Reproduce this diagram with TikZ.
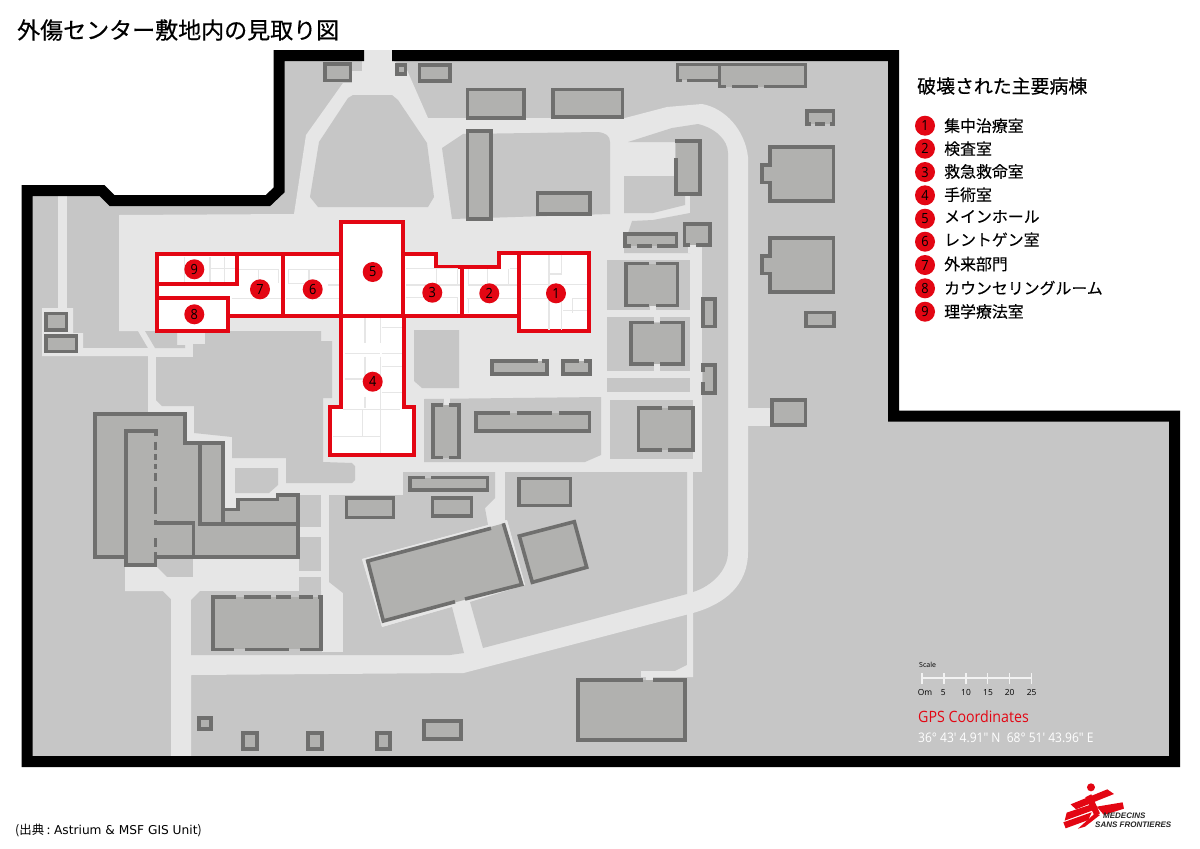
\documentclass[tikz,border=0pt]{standalone}
\usepackage{fontspec}
\newfontfamily\jp[FakeBold=0.12]{Noto Sans CJK JP}
\newfontfamily\jpn{Noto Sans CJK JP}
\newfontfamily\jpm[FakeBold=0.45]{Noto Sans CJK JP}
\newfontfamily\lat{Open Sans}
\newfontfamily\latn[FakeStretch=0.91]{Open Sans}
\newfontfamily\dej{DejaVu Sans}
\newfontfamily\arialf{Liberation Sans}
\definecolor{ground}{HTML}{C6C6C6}
\definecolor{road}{HTML}{E6E6E6}
\definecolor{bfillc}{HTML}{B1B1AF}
\definecolor{bline}{HTML}{6F6F6E}
\definecolor{msf}{HTML}{E30613}
\tikzset{
  wall/.style={draw=black,line width=11pt,miter limit=10},
  gnd/.style={fill=ground},
  rd/.style={fill=road},
  bld/.style={draw=bline,fill=bfillc,line width=3.6pt},
  bf/.style={fill=bfillc},
  bs/.style={draw=bline,line width=3.6pt},
  redb/.style={draw=msf,fill=white,line width=3.8pt,miter limit=10},
  redl/.style={draw=msf,line width=3.8pt},
  room/.style={draw=road,line width=1.2pt},
  num/.style={circle,fill=msf,minimum size=20pt,inner sep=0pt,text=black,font=\latn\fontsize{14}{15}\selectfont},
  leg/.style={anchor=west,inner sep=0pt,text=black,font=\jp\fontsize{15.9}{18}\selectfont},
  sc/.style={inner sep=0pt,text=black,font=\lat\fontsize{8.4}{9}\selectfont},
  tick/.style={draw=white!95!black,line width=1.2pt},
}
\newcommand\bx[4]{\draw[bld] (#1+1.8,#2+1.8) rectangle (#3-1.8,#4-1.8);}
\begin{document}
\begin{tikzpicture}[x=1pt,y=-1pt]
\useasboundingbox (0,0) rectangle (1200,849);
\fill[white] (0,0) rectangle (1200,849);
% site ground
\fill[gnd] (279,55) -- (893.5,55) -- (893.5,416) -- (1174.5,416) -- (1174.5,761.5) -- (27,761.5) -- (27,190.5) -- (102,190.5) -- (112,200.5) -- (268,200.5) -- (279,190) -- cycle;
% light paved surface
\fill[rd] (119,215) -- (294,214) -- (306,135) -- (343,83) -- (352,83) -- (352,71) -- (362,71) -- (362,62) -- (364,50) -- (392,50) -- (392,60) -- (407,70) -- (428,118) -- (625,118) -- (667,107) -- (702,104)
  .. controls (725,108) and (745,130) .. (748,157) -- (748,552) .. controls (748,585) and (725,604) .. (693,613) -- (590,640) -- (463.6,673) -- (191,675) -- (191,756) -- (171,756) -- (171,599) -- (163,591) -- (125,591) -- (125,567) -- (157,567) -- (167,577) -- (193,577) -- (193,500) -- (180,500) -- (180,420) -- (148,413) -- (148,356) -- (42,356) -- (42,308) -- (73,308) -- (73,333) -- (83,333) -- (83,348) -- (148,348) -- (138,331) -- (119,331) -- cycle;
\fill[rd] (58,196) rectangle (67,310);
\fill[rd] (748,408) rectangle (772,425.7);
\fill[rd] (687,610) -- (693,610) -- (693,677) -- (641,677) -- (641,671) -- (675,671) -- (687,665) -- cycle;
% grey patches on the paving
\fill[gnd] (353,95) -- (392,95) -- (398,100) -- (427,143) -- (434,197) -- (428,207) -- (318,207) -- (310,197) -- (319,142) -- (348,98) -- cycle;
\fill[gnd] (442,148) -- (463,134) -- (598,132) .. controls (606,133) and (610,136) .. (610,142) -- (610,214) -- (452,219) -- cycle;
\fill[gnd] (628,142) -- (672,128) -- (698,124) .. controls (715,128) and (728,140) .. (728,153) -- (728,472) -- (702,472) -- (702,247) -- (690,247) -- (690,195) -- (675,195) -- (675,142) -- cycle;
\fill[gnd] (624,176) -- (675,176) -- (675,195) -- (685,195) -- (685,205) -- (653,213) -- (624,213) -- cycle;
\fill[gnd] (632,221) -- (653,220) -- (690,213) -- (690,253) -- (624,253) -- (624,233) -- (628,233) -- cycle;
\fill[gnd] (607,260) rectangle (690,310);
\fill[gnd] (607,317) rectangle (690,371);
\fill[gnd] (607,378) rectangle (690,392);
\fill[gnd] (610,400) rectangle (693,459);
\fill[gnd] (424,399) -- (601,397) -- (601,455) -- (585,462) -- (424,462) -- cycle;
\fill[gnd] (414,330) -- (459,330) -- (459,388) -- (422,388) -- (414,381) -- cycle;
\fill[gnd] (145,331) -- (177,331) -- (177,345) -- (185,345) -- (185,348) -- (155,348) -- cycle;
\fill[gnd] (156,357) -- (193,357) -- (193,344) -- (205,344) -- (205,331) -- (321,331) -- (321,341) -- (332,341) -- (332,398) -- (323,398) -- (323,462) -- (352,463) -- (355,466) -- (355,480) -- (352,483) -- (286,483) -- (286,458) -- (232,458) -- (232,437) -- (194,433) -- (194,406) -- (162,406) -- (156,400) -- cycle;
\fill[gnd] (235,468) -- (278,468) -- (278,485) -- (269,493) -- (235,493) -- cycle;
\fill[gnd] (299,495) rectangle (321,527);
\fill[gnd] (299,537) rectangle (321,571);
\fill[gnd] (299,577) rectangle (321,591);
\fill[gnd] (191,600) -- (200,591) -- (321,591) -- (322,652) -- (343,652) -- (343,655) -- (191,655) -- cycle;
\fill[gnd] (329,495) -- (403,495) -- (403,472) -- (495,472) -- (495,498) -- (485,508) -- (488,525) -- (362,559) -- (382,627) -- (452,607) -- (464,653) -- (450,655) -- (343,655) -- (343,593) -- (329,582) -- cycle;
\fill[gnd] (505,472) -- (687,472) -- (687,594) -- (590,620) -- (483,648) -- (470,602) -- (525,585) -- (507,520) -- (505,520) -- cycle;
\fill[gnd] (693,472) -- (728,472) -- (728,552) .. controls (728,570) and (712,586) .. (693,592) -- cycle;
% doors
\fill[road] (650,305) rectangle (656,312);
\fill[road] (654,312) rectangle (660,322);
\fill[road] (654,364) rectangle (660,372);
\fill[road] (443.5,397) rectangle (449.5,405);
\fill[road] (646,671) rectangle (653,680);
\fill[road] (688,245) rectangle (697,253);
% boundary wall
\draw[wall] (364,55.5) -- (279,55.5) -- (279,190) -- (268,200.5) -- (112,200.5) -- (102,190.5) -- (27,190.5) -- (27,761.5) -- (1174.5,761.5) -- (1174.5,416) -- (893.5,416) -- (893.5,55.5) -- (392,55.5);
% plain buildings
\bx{323.3}{62.3}{352.3}{82.3}
\bx{395}{63.3}{407.3}{75.7}
\bx{417.7}{63}{451.7}{82.7}
\bx{465.7}{87.7}{525.7}{120}
\bx{551}{87.5}{624.3}{119}
\bx{465.7}{129.3}{492.7}{220.7}
\bx{535.7}{191}{591.7}{215.7}
\bx{701}{297.3}{716.7}{328.3}
\bx{344.7}{496}{395.3}{519.3}
\bx{430.7}{496}{473.3}{517.7}
\bx{517.3}{476.7}{572.3}{507.3}
\bx{770}{398.3}{807.3}{426.7}
\bx{804}{310.7}{835.7}{328.3}
\bx{44}{311.7}{68.3}{331.7}
\bx{44}{334}{78.3}{353.3}
\bx{197}{716}{212.5}{730.5}
\bx{241}{731}{258.5}{751}
\bx{306}{731}{323.5}{751}
\bx{375}{731}{391.5}{751}
\bx{422}{719}{462.5}{740.5}
% buildings with bumps
\draw[bld] (770,146.8) -- (833.5,146.8) -- (833.5,201) -- (770,201) -- (770,182.5) -- (761.8,182.5) -- (761.8,165) -- (770,165) -- cycle;
\draw[bld] (770,237.8) -- (833.5,237.8) -- (833.5,292) -- (770,292) -- (770,273.5) -- (761.8,273.5) -- (761.8,256) -- (770,256) -- cycle;
% buildings with gaps
\fill[bf] (677.5,64.5) rectangle (719,80.3);
\draw[bs] (681.7,80.3) -- (677.5,80.3) -- (677.5,64.5) -- (720,64.5) (687,80.3) -- (718,80.3);
\fill[bf] (719.5,64.5) rectangle (805.5,86.5);
\draw[bs] (725.7,86.5) -- (719.5,86.5) -- (719.5,64.5) -- (805.5,64.5) -- (805.5,86.5) -- (764,86.5) (732,86.5) -- (758,86.5);
\fill[bf] (806.8,111) rectangle (833.5,124);
\draw[bs] (810.7,124) -- (806.8,124) -- (806.8,111) -- (833.5,111) -- (833.5,124) -- (830,124) (815,124) -- (825,124);
\fill[bf] (676,140.8) rectangle (700,194);
\draw[bs] (675,140.8) -- (700,140.8) -- (700,194) -- (676,194) -- (676,158);
\fill[bf] (624.8,233.8) rectangle (676.5,246);
\draw[bs] (631,246) -- (624.8,246) -- (624.8,233.8) -- (676.5,233.8) -- (676.5,246) -- (657,246) (636.7,246) -- (651.7,246);
\fill[bf] (684.5,224) rectangle (710,245);
\draw[bs] (690,245) -- (684.5,245) -- (684.5,224) -- (710,224) -- (710,245) -- (696,245);
\fill[bf] (625.8,263.5) rectangle (677.5,305.5);
\draw[bs] (649.3,263.5) -- (625.8,263.5) -- (625.8,305.5) -- (649.3,305.5) (655.7,263.5) -- (677.5,263.5) -- (677.5,305.5) -- (655.7,305.5);
\fill[bf] (631,322.5) rectangle (683.2,364);
\draw[bs] (654,322.5) -- (631,322.5) -- (631,364) -- (654,364) (660,322.5) -- (683.2,322.5) -- (683.2,364) -- (660,364);
\fill[bf] (702.8,365) rectangle (715,393);
\draw[bs] (702.8,372) -- (702.8,365) -- (715,365) -- (715,393) -- (702.8,393) -- (702.8,382);
\fill[bf] (638.5,407.8) rectangle (693.2,450);
\draw[bs] (662.3,407.8) -- (638.5,407.8) -- (638.5,450) -- (662.3,450) (668.3,407.8) -- (693.2,407.8) -- (693.2,450) -- (668.3,450);
\fill[bf] (433,405) rectangle (459,457.5);
\draw[bs] (443.3,405) -- (433,405) -- (433,457.5) -- (443.3,457.5) (449.3,405) -- (459,405) -- (459,457.5) -- (449.3,457.5);
\fill[bf] (475.8,412.8) rectangle (589.5,431);
\draw[bs] (510,412.8) -- (475.8,412.8) -- (475.8,431) -- (589.5,431) -- (589.5,412.8) -- (558.7,412.8) (516.7,412.8) -- (552,412.8);
\fill[bf] (491.8,361) rectangle (547.2,374);
\draw[bs] (537.7,361) -- (491.8,361) -- (491.8,374) -- (547.2,374) -- (547.2,361) -- (542.3,361);
\fill[bf] (563,361) rectangle (590,374);
\draw[bs] (579.3,361) -- (563,361) -- (563,374) -- (590,374) -- (590,361) -- (584.3,361);
\fill[bf] (410,477.5) rectangle (487.5,490.2);
\draw[bs] (425,477.5) -- (410,477.5) -- (410,490.2) -- (487.5,490.2) -- (487.5,477.5) -- (431,477.5);
\fill[bf] (577.8,679.7) rectangle (685,739.7);
\draw[bs] (643,679.7) -- (577.8,679.7) -- (577.8,739.7) -- (685,739.7) -- (685,679.7) -- (653,679.7);
\fill[bf] (212.7,596.7) rectangle (320.7,649.3);
\draw[bs] (236,596.7) -- (212.7,596.7) -- (212.7,649.3) -- (234.3,649.3) (245,649.3) -- (289.3,649.3) (300,649.3) -- (320.7,649.3) -- (320.7,596.7) -- (318.3,596.7) (244.3,596.7) -- (270.7,596.7) (276,596.7) -- (290.7,596.7) (298.7,596.7) -- (313.3,596.7);
% rotated buildings
\fill[road] (362,559) -- (507,520) -- (525,585) -- (382,627) -- cycle;
\fill[bf] (367.7,561) -- (503,523.5) -- (521.7,585) -- (383.3,621) -- cycle;
\draw[bs] (491,528.3) -- (367.7,561) -- (383.3,621) -- (455,601.7) (465,599) -- (521.7,584.5) -- (503.3,523.3);
\draw[bld] (519.3,536) -- (574.3,521.7) -- (586.7,567.3) -- (532.3,582.3) -- cycle;
% west building complex
\fill[bf] (95,414) -- (185,414) -- (185,442.7) -- (222.7,442.7) -- (222.7,509.3) -- (237.7,509.3) -- (237.7,499.3) -- (277.3,499.3) -- (277.3,495) -- (297.7,495) -- (297.7,556.7) -- (156,556.7) -- (156,565) -- (125.7,565) -- (125.7,556.7) -- (95,556.7) -- cycle;
\draw[bs] (125.7,556.7) -- (95,556.7) -- (95,414) -- (185,414) -- (185,442.7) -- (222.7,442.7) -- (222.7,509.3) -- (237.7,509.3) -- (237.7,499.3) -- (277.3,499.3) -- (277.3,495) -- (297.7,495) -- (297.7,556.7) -- (156,556.7);
\draw[bs] (156,436) -- (156,430.7) -- (125.7,430.7) -- (125.7,565) -- (155.3,565) -- (155.3,552);
\draw[bs] (200,442.7) -- (200,524) -- (298,524) (222.7,509.3) -- (222.7,524);
\draw[bs] (155.3,520) -- (155.3,522.7) -- (193.3,522.7) -- (193.3,556.7);
\draw[bs] (155.3,441.7) -- (155.3,450) (155.3,454.3) -- (155.3,460) (155.3,464) -- (155.3,469) (155.3,473.3) -- (155.3,481) (155.3,487.3) -- (155.3,514) (155.3,538.3) -- (155.3,547.3);
% red hospital: wings
\draw[redb] (157.3,254) -- (341,254) -- (341,316) -- (228.3,316) -- (228.3,298.3) -- (157.3,298.3) -- cycle;
\draw[redb] (157.3,298.3) -- (228.3,298.3) -- (228.3,330.7) -- (157.3,330.7) -- cycle;
\draw[redb] (157.3,254) -- (236.7,254) -- (236.7,284) -- (157.3,284) -- cycle;
\draw[redb] (403.3,254) -- (435.7,254) -- (435.7,267.3) -- (499.3,267.3) -- (499.3,252.7) -- (519.3,252.7) -- (519.3,315.7) -- (403.3,315.7) -- cycle;
\draw[redb] (341,316) -- (403.7,316) -- (403.7,407.3) -- (414,407.3) -- (414,455) -- (330,455) -- (330,407.3) -- (341,407.3) -- cycle;
\draw[redb] (519.3,252.7) -- (589.3,252.7) -- (589.3,330.7) -- (519.3,330.7) -- cycle;
\draw[redb] (341,222) -- (403.3,222) -- (403.3,316) -- (341,316) -- cycle;
% rooms, west part
\begin{scope}[shift={(130,200)},x=0.3333pt,y=-0.3333pt]
\draw[room] (163,170) -- (163,245) (240,172) -- (240,245) (283,172) -- (283,245) (240,205) -- (316,205);
\draw[room] (328,208) -- (445,208) -- (445,250) (385,208) -- (385,250) (305,295) -- (455,295);
\draw[room] (475,208) -- (628,208) (475,208) -- (475,250) -- (537,250) -- (537,208) (467,295) -- (628,295) (595,255) -- (628,255);
\draw[room] (705,355) -- (705,430) (705,470) -- (705,565) (705,590) -- (705,625) (752,355) -- (752,430) (752,470) -- (752,760);
\draw[room] (755,382) -- (815,382) (645,460) -- (750,460) (755,460) -- (815,460) (755,500) -- (815,500) (645,537) -- (700,537) (755,578) -- (815,578) (640,628) -- (810,628) (697,628) -- (697,710) (610,710) -- (750,710);
\end{scope}
% rooms, east part
\begin{scope}[shift={(400,200)},x=0.3333pt,y=-0.3333pt]
\draw[room] (17,205) -- (172,205) (110,205) -- (110,255) (17,255) -- (185,255) (17,292) -- (172,292) (172,205) -- (172,255) (172,292) -- (172,340);
\draw[room] (205,208) -- (205,255) -- (350,255) (262,208) -- (262,255) (325,208) -- (325,255) (330,205) -- (350,205) (200,295) -- (350,295) (205,295) -- (205,340);
\draw[room] (447,165) -- (447,390) (485,165) -- (485,225) (365,253) -- (560,253) (365,295) -- (485,295) (518,295) -- (560,295) (485,295) -- (485,390) (518,295) -- (518,338) (490,332) -- (560,332) (447,222) -- (485,222);
\end{scope}
% dividing walls
\draw[redl] (283.3,254) -- (283.3,316);
\draw[redl] (462.3,267.3) -- (462.3,315.7);
% number markers on the plan
\node[num] (p1) at (556,293.3) {1};
\node[num] (p2) at (489.3,293.3) {2};
\node[num] (p3) at (432.3,292.7) {3};
\node[num] (p4) at (372.7,381.7) {4};
\node[num] (p5) at (372.7,272) {5};
\node[num] (p6) at (312.7,289.3) {6};
\node[num] (p7) at (260,289.3) {7};
\node[num] (p8) at (194.3,314.3) {8};
\node[num] (p9) at (194.3,269.3) {9};
% title and legend
\node[anchor=west,inner sep=0pt,font=\jpm\fontsize{23}{26}\selectfont] (title) at (17,30) {外傷センター敷地内の見取り図};
\node[anchor=west,inner sep=0pt,font=\jpm\fontsize{18.9}{22}\selectfont] (legtitle) at (917,86) {破壊された主要病棟};
\node[num] (l1) at (925,125.7) {1}; \node[leg] (t1) at (944,125.7) {集中治療室};
\node[num] (l2) at (925,148.7) {2}; \node[leg] (t2) at (944,148.7) {検査室};
\node[num] (l3) at (925,172) {3}; \node[leg] (t3) at (944,171.5) {救急救命室};
\node[num] (l4) at (925,195.3) {4}; \node[leg] (t4) at (944,194.7) {手術室};
\node[num] (l5) at (925,218.7) {5}; \node[leg] (t5) at (944,216.5) {メインホール};
\node[num] (l6) at (925,241.7) {6}; \node[leg] (t6) at (944,239.5) {レントゲン室};
\node[num] (l7) at (925,265) {7}; \node[leg] (t7) at (944,264) {外来部門};
\node[num] (l8) at (925,288.3) {8}; \node[leg] (t8) at (944,288) {カウンセリングルーム};
\node[num] (l9) at (925,311.7) {9}; \node[leg] (t9) at (944,311.5) {理学療法室};
% scale
\node[sc,anchor=west,font=\lat\fontsize{7}{8}\selectfont] (scl) at (919,665) {Scale};
\coordinate (s0) at (922,678.3); \coordinate (s25) at (1031.7,678.3);
\draw[draw=white!95!black,line width=1.8pt] (s0) -- (s25);
\foreach \tx in {922,944,966,987.7,1009.7,1031.7} \draw[tick] (\tx,673) -- (\tx,683.5);
\node[sc] (s0l) at (925,692.3) {Om};
\node[sc] (s5l) at (943.3,692.3) {5};
\node[sc] (s10l) at (966,692.3) {10};
\node[sc] (s15l) at (988,692.3) {15};
\node[sc] (s20l) at (1009.7,692.3) {20};
\node[sc] (s25l) at (1031.7,692.3) {25};
\node[anchor=west,inner sep=0pt,text=msf,font=\latn\fontsize{15.6}{17}\selectfont] (gps) at (918,716.5) {GPS Coordinates};
\node[anchor=west,inner sep=0pt,text=white,font=\latn\fontsize{13.2}{16}\selectfont] (gpsv) at (918,737.5) {36° 43' 4.91" N\ \ 68° 51' 43.96" E};
% source
\node[anchor=west,inner sep=0pt,font=\jpn\fontsize{12.4}{14}\selectfont] (src) at (15,830) {(出典 : {\dej\fontsize{12.2}{14}\selectfont Astrium \& MSF GIS Unit})};
% logo
\begin{scope}[shift={(900,650)},x=0.3333pt,y=-0.3333pt]
\fill[msf] (573,412) circle (12);
\fill[msf] (512,463) -- (622,418) -- (642,432) -- (528,478) -- cycle;
\fill[msf] (590,470) -- (668,457) -- (672,476) -- (612,495) -- cycle;
\fill[msf] (556,442) -- (574,433) -- (600,490) -- (585,500) -- cycle;
\fill[msf] (500,488) -- (578,462) -- (576,482) -- (494,512) -- cycle;
\fill[msf] (490,517) -- (575,487) -- (565,510) -- (497,535) -- cycle;
\fill[msf] (585,490) -- (600,495) -- (555,530) -- (534,536) -- cycle;
\end{scope}
\node[anchor=west,inner sep=0pt,text=black!85,font=\arialf\bfseries\itshape\fontsize{8}{9}\selectfont] (msf1) at (1103,816) {MEDECINS};
\node[anchor=west,inner sep=0pt,text=black!85,font=\arialf\bfseries\itshape\fontsize{8}{9}\selectfont] (msf2) at (1095,825) {SANS FRONTIERES};
\end{tikzpicture}
\end{document}
